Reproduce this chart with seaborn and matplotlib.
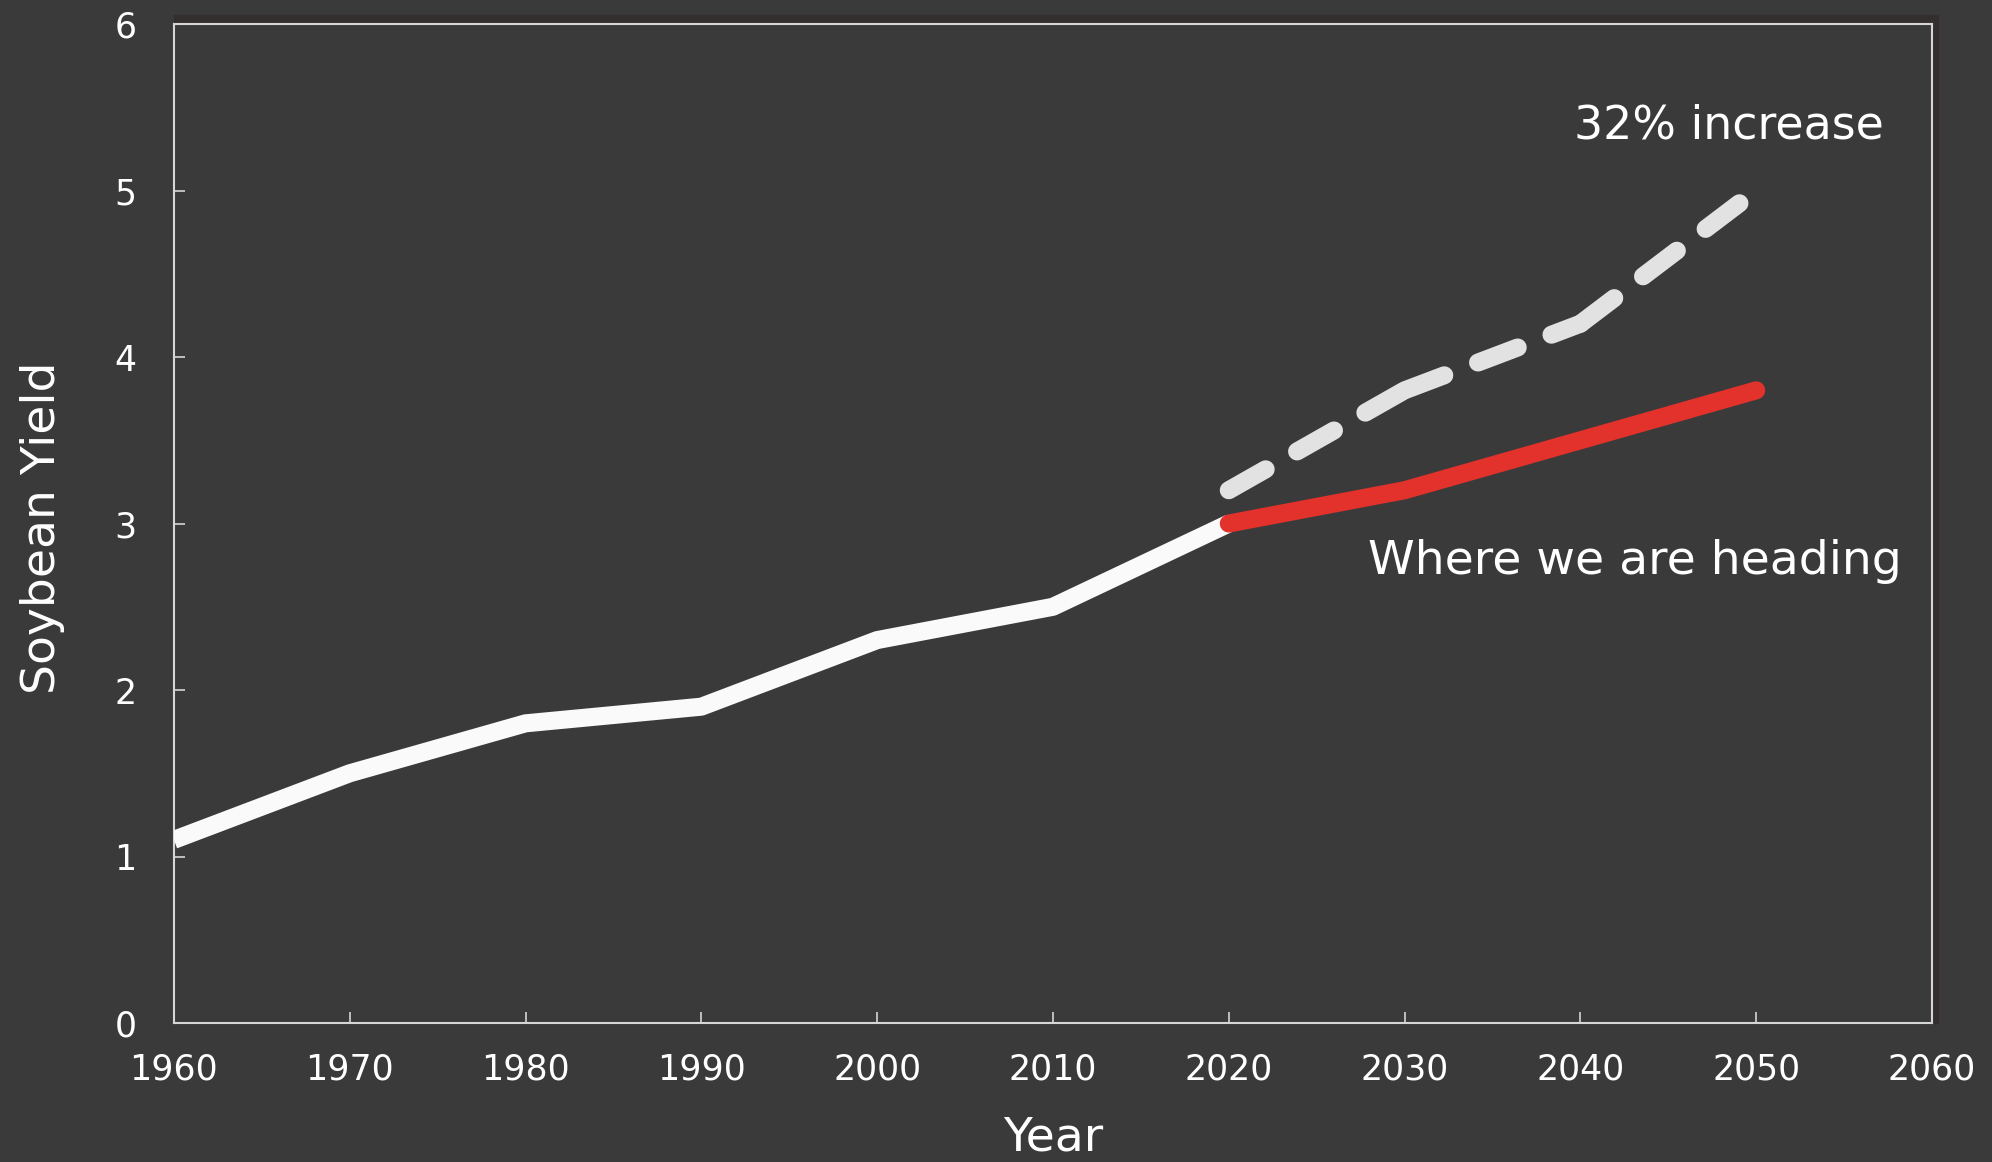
import matplotlib
matplotlib.use("Agg")
import matplotlib.pyplot as plt
from matplotlib.patches import Rectangle
import seaborn as sns

# Historical soybean yield
years_hist = [1960, 1970, 1980, 1990, 2000, 2010, 2020]
yield_hist = [1.1, 1.5, 1.8, 1.9, 2.3, 2.5, 3.0]

# Projections to 2050
years_proj = [2020, 2030, 2040, 2050]
yield_trend = [3.0, 3.2, 3.5, 3.8]      # current trajectory
yield_needed = [3.2, 3.8, 4.2, 5.0]     # required (+32%)

x_ticks = [1960, 1970, 1980, 1990, 2000, 2010, 2020, 2030, 2040, 2050, 2060]
y_ticks = [0, 1, 2, 3, 4, 5, 6]

label_needed = "32% increase"
label_trend = "Where we are heading"
x_title = "Year"
y_title = "Soybean Yield"

BG = "#3b3a3a"
FG = "#ffffff"
SPINE = "#d6d6d6"

sns.set_theme(style="ticks")
plt.rcParams["font.family"] = ["DejaVu Sans"]
plt.rcParams["axes.facecolor"] = BG
plt.rcParams["figure.facecolor"] = BG

fig = plt.figure(figsize=(19.92, 11.62), dpi=100)
ax = fig.add_axes([0.0873, 0.1196, 0.8826, 0.8597])
ax.set_zorder(2)

# faint dark frame along the top and right edges of the plot area
pos = ax.get_position()
fig.patches.append(Rectangle((pos.x0, pos.y0), pos.width + 6 / 1992, pos.height + 9 / 1162,
                             transform=fig.transFigure, color="#332f2f", zorder=0))

LW = 13.0

sns.lineplot(x=years_hist, y=yield_hist, ax=ax, color="#fafafa", linewidth=LW,
             solid_capstyle="butt", solid_joinstyle="bevel", zorder=3)

sns.lineplot(x=years_proj, y=yield_trend, ax=ax, color="#e3312b", linewidth=LW,
             solid_capstyle="round", solid_joinstyle="round", zorder=4)

# dashed target line, pattern restarted on each segment
for i in range(len(years_proj) - 1):
    sns.lineplot(x=years_proj[i:i + 2], y=yield_needed[i:i + 2], ax=ax,
                 color="#e2e2e2", linewidth=LW, linestyle=(0, (2.35, 2.0)),
                 dash_capstyle="round", zorder=3)

ax.set_xlim(1960, 2060)
ax.set_ylim(0, 6)
ax.set_xticks(x_ticks)
ax.set_yticks(y_ticks)
ax.set_xticklabels([str(v) for v in x_ticks])
ax.set_yticklabels([str(v) for v in y_ticks])

ax.tick_params(direction="in", length=8, width=1.2, color=SPINE,
               labelcolor=FG, labelsize=25)
ax.tick_params(axis="x", pad=21)
ax.tick_params(axis="y", pad=27)

for side in ["left", "bottom", "top", "right"]:
    ax.spines[side].set_visible(True)
    ax.spines[side].set_color(SPINE)
    ax.spines[side].set_linewidth(1.5)

ax.set_xlabel(x_title, fontsize=34, color=FG)
ax.xaxis.set_label_coords(0.5, -0.115)
ax.xaxis.label.set_va("center")

ax.set_ylabel(y_title, fontsize=34, color=FG)
ax.yaxis.set_label_coords(-0.075, 0.4955)
ax.yaxis.label.set_va("center")

ax.text(2048.45, 5.315, label_needed, fontsize=33, color=FG, ha="center", va="baseline", zorder=5)
ax.text(2043.1, 2.697, label_trend, fontsize=34, color=FG, ha="center", va="baseline", zorder=5)

fig.savefig("out.png", dpi=100, facecolor=BG)
